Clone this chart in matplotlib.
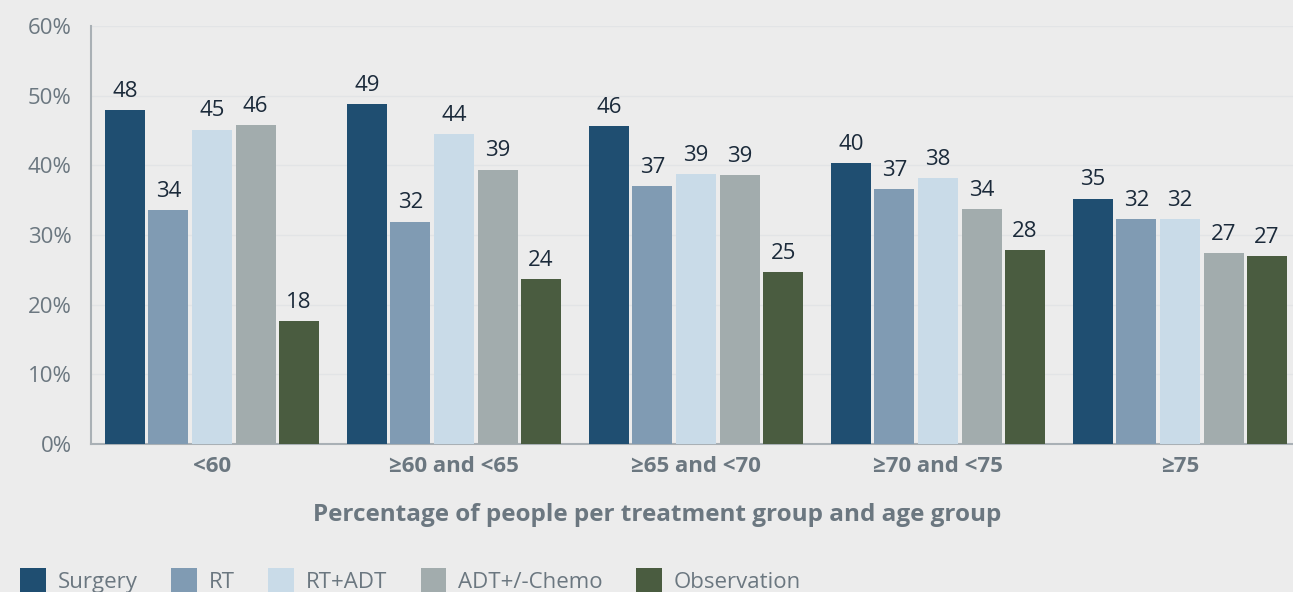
import numpy as np
import matplotlib.pyplot as plt

plt.rcParams['font.family'] = ['Open Sans', 'DejaVu Sans']

# Share of people per treatment, by age group (%)
age_groups = ["<60", "≥60 and <65", "≥65 and <70", "≥70 and <75", "≥75"]
treatments = ["Surgery", "RT", "RT+ADT", "ADT+/-Chemo", "Observation"]
surgery = [47.9, 48.8, 45.6, 40.3, 35.2]
rt = [33.6, 31.9, 37.0, 36.6, 32.3]
rt_adt = [45.1, 44.5, 38.7, 38.2, 32.3]
adt_chemo = [45.8, 39.4, 38.6, 33.7, 27.4]
observation = [17.6, 23.7, 24.7, 27.8, 27.0]

colors = ["#1f4e71", "#809bb3", "#c9dbe8", "#a2acad", "#4a5c40"]
bg = "#ececec"
grey_text = "#6b7780"

fig = plt.figure(figsize=(12.93, 5.92), dpi=100, facecolor=bg)
ax = fig.add_axes([91 / 1293, 1 - 444 / 592, 1 - 91 / 1293, 418 / 592])
ax.set_facecolor(bg)

series = [surgery, rt, rt_adt, adt_chemo, observation]
x = np.arange(len(age_groups))
pitch = 0.18
width = 0.165
for i, (name, vals, c) in enumerate(zip(treatments, series, colors)):
    pos = x + (i - 2) * pitch
    bars = ax.bar(pos, vals, width, color=c, label=name, zorder=3)
    for b, v in zip(bars, vals):
        ax.text(b.get_x() + b.get_width() / 2, v + 1.2, f"{round(v):d}",
                ha="center", va="bottom", fontsize=16, color="#1b2a3a")

ax.set_xlim(-0.5, 4.467)
ax.set_ylim(0, 60)
ax.set_yticks(range(0, 61, 10))
ax.set_yticklabels([f"{t}%" for t in range(0, 61, 10)])
ax.yaxis.grid(True, color="#e2e4e6", linewidth=1, zorder=0)
ax.set_xticks(x)
ax.set_xticklabels(age_groups, fontweight="bold")
ax.tick_params(axis="x", length=0, labelsize=16, labelcolor=grey_text, pad=9)
ax.tick_params(axis="y", length=0, labelsize=16, labelcolor=grey_text, pad=14)

for s in ["top", "right"]:
    ax.spines[s].set_visible(False)
for s in ["left", "bottom"]:
    ax.spines[s].set_color("#a9b0b5")
    ax.spines[s].set_linewidth(1.5)

ax.set_xlabel("Percentage of people per treatment group and age group",
              fontsize=17.5, fontweight="bold", color=grey_text)
ax.xaxis.set_label_coords(0.471, -0.14)

fig.legend(loc="lower left", bbox_to_anchor=(0.0, -0.035), ncol=5,
           frameon=False, fontsize=16, labelcolor=grey_text,
           handlelength=1.15, handleheight=1.25, handletextpad=0.55,
           columnspacing=1.5)

fig.savefig("out.png", dpi=100, facecolor=bg)
